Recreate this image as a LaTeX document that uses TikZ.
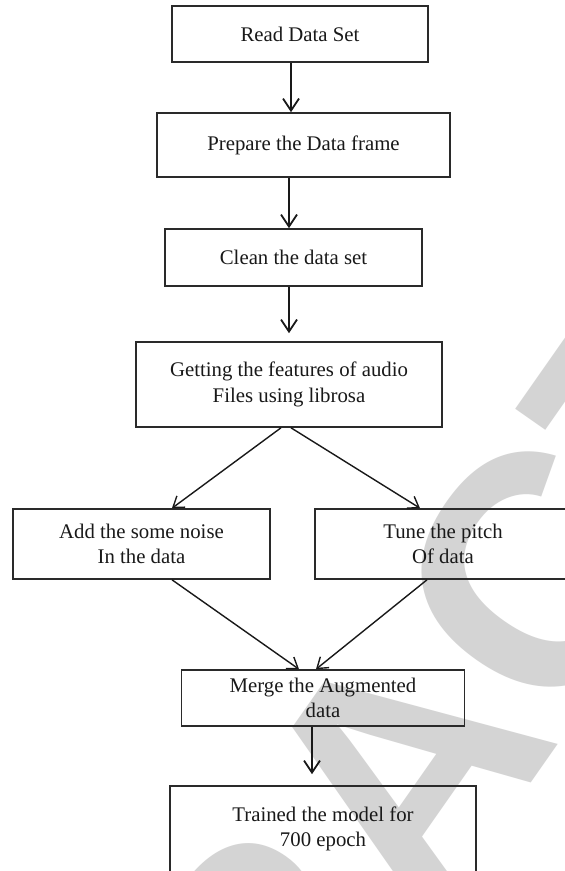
\documentclass[tikz,border=0pt]{standalone}
\usepackage{fontspec}
\setmainfont{Liberation Serif}
\newfontfamily\wmfont{Liberation Sans}
\usetikzlibrary{arrows.meta,calc}
\definecolor{wmgray}{HTML}{D4D4D4}
\definecolor{linegray}{HTML}{2A2A2A}
\tikzset{
  stepbox/.style={draw=linegray, line width=1.6pt, align=center, inner sep=0pt,
    font=\fontsize{20.8}{25.5}\selectfont, text=black!90},
  thickarrow/.style={draw=black!90, line width=2.2pt, -{Straight Barb[length=12pt,width=16pt,line width=1.8pt]}},
  thinarrow/.style={draw=black!90, line width=1.4pt, -{Straight Barb[length=10pt,width=14pt,line width=1.4pt]}},
  watermark/.style={text=wmgray, inner sep=0pt, font=\wmfont\bfseries\fontsize{330}{330}\selectfont}
}
\begin{document}
\begin{tikzpicture}[x=1pt,y=-1pt]
\useasboundingbox (0,0) rectangle (565,871);
\clip (0,0) rectangle (565,871);
\fill[white] (0,0) rectangle (565,871);
\node[watermark, rotate=55] (wm) at (402,770) {RETRACTED};

\node[stepbox, minimum width=256pt, minimum height=56pt] (read) at (300,34) {Read Data Set};
\node[stepbox, minimum width=293pt, minimum height=64pt] (prep) at (303.5,145) {Prepare the Data frame};
\node[stepbox, minimum width=257pt, minimum height=57pt] (clean) at (293.5,257.5) {Clean the data set};
\node[stepbox, minimum width=306pt, minimum height=85pt] (feat) at (289,384.5) {Getting the features of audio\\Files using librosa};
\node[stepbox, minimum width=257pt, minimum height=70pt] (noise) at (141.5,544) {Add the some noise\\In the data};
\node[stepbox, minimum width=256pt, minimum height=70pt] (pitch) at (443,544) {Tune the pitch\\Of data};
\node[stepbox, minimum width=283pt, minimum height=56pt] (merge) at (323,698) {Merge the Augmented\\data};
\node[stepbox, minimum width=306pt, minimum height=86pt] (train) at (323,829) {Trained the model for\\700 epoch};

\draw[thickarrow] ([xshift=-9pt]read.south) -- ([xshift=-12.5pt]prep.north);
\draw[thickarrow] ([xshift=-14.5pt]prep.south) -- ([xshift=-4.5pt]clean.north);
\draw[thickarrow, shorten >=8pt] ([xshift=-4.5pt]clean.south) -- (feat.north);
\draw[thinarrow] ([xshift=-8pt]feat.south) -- ([xshift=30.5pt]noise.north);
\draw[thinarrow] ([xshift=2pt]feat.south) -- ([xshift=-23pt]pitch.north);
\draw[thinarrow] ([xshift=30.5pt]noise.south) -- ([xshift=-24pt]merge.north);
\draw[thinarrow] ([xshift=-16pt]pitch.south) -- ([xshift=-7pt]merge.north);
\draw[thickarrow, shorten >=11pt] ([xshift=-11pt]merge.south) -- ([xshift=-11pt]train.north);
\end{tikzpicture}
\end{document}
